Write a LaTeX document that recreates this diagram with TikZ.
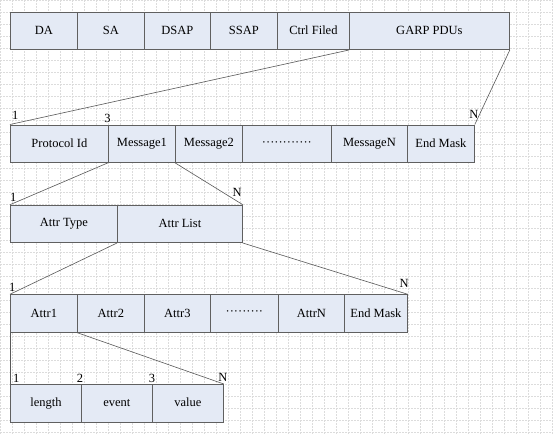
\documentclass[tikz,border=0pt]{standalone}
\usepackage{fontspec}
\setmainfont{Liberation Serif}
\definecolor{boxfill}{HTML}{E4EAF5}
\definecolor{boxline}{HTML}{606060}
\definecolor{linkline}{HTML}{585858}
\definecolor{gridcol}{HTML}{DCDCDC}
\begin{document}
\begin{tikzpicture}[x=1pt,y=-1pt,
        field/.style={draw=boxline, fill=boxfill, line width=0.8pt, anchor=north west,
            minimum height=37.5pt, inner sep=0pt, font=\fontsize{12.5}{15}\selectfont},
        num/.style={inner sep=0pt, font=\fontsize{12.5}{15}\selectfont},
        link/.style={draw=linkline, line width=0.6pt},
        gridline/.style={draw=gridcol, dash pattern=on 1.5pt off 1.5pt, line width=0.5pt}]
        \useasboundingbox[fill=white] (0,0) rectangle (553,434);
        % background grid
        \foreach \gx in {0,12,...,552} \draw[gridline] (\gx+0.7,0) -- (\gx+0.7,434);
        \foreach \gy in {0,12,...,432} \draw[gridline] (0,\gy+0.7) -- (553,\gy+0.7);
        % frame
        \node[field, minimum width=67pt] (da) at (10,11.7) {DA};
        \node[field, minimum width=67pt] (sa) at (77,11.7) {SA};
        \node[field, minimum width=66pt] (dsap) at (144,11.7) {DSAP};
        \node[field, minimum width=67pt] (ssap) at (210,11.7) {SSAP};
        \node[field, minimum width=72pt] (ctrl) at (277,11.7) {\raisebox{1.5pt}{Ctrl Filed}};
        \node[field, minimum width=160pt] (garp) at (349,11.7) {\raisebox{-1.5pt}{GARP PDUs}};
        % GARP PDU
        \node[field, minimum width=98pt] (pid) at (10,124.5) {Protocol Id};
        \node[field, minimum width=67pt] (msg1) at (108,124.5) {Message1};
        \node[field, minimum width=67pt] (msg2) at (175,124.5) {Message2};
        \node[field, minimum width=89pt] (msgdots) at (242,124.5) {············};
        \node[field, minimum width=76pt] (msgn) at (331,124.5) {MessageN};
        \node[field, minimum width=67pt] (pdumask) at (407,124.5) {End Mask};
        \draw[link] (garp.south west) -- (pid.north west);
        \draw[link] (garp.south east) -- (pdumask.north east);
        \node[num, anchor=base west] (pdunum1) at ([shift={(2,-5.5)}]pid.north west) {1};
        \node[num, anchor=base] (pdunum3) at ([shift={(-0.5,-2.5)}]msg1.north west) {3};
        \node[num, anchor=base] (pdunumn) at ([shift={(-1,-6.5)}]pdumask.north east) {N};
        % message
        \node[field, minimum width=107pt] (atype) at (10,204.7) {Attr Type};
        \node[field, minimum width=125pt] (alist) at (117,204.7) {Attr List};
        \draw[link] (msg1.south west) -- (atype.north west);
        \draw[link] (msg2.south west) -- (alist.north east);
        \node[num, anchor=base west] (msgnum1) at ([shift={(0,-3)}]atype.north west) {1};
        \node[num, anchor=base east] (msgnumn) at ([shift={(-1,-8)}]alist.north east) {N};
        % attribute list
        \node[field, minimum width=67pt] (attr1) at (10,294.3) {Attr1};
        \node[field, minimum width=67pt] (attr2) at (77,294.3) {Attr2};
        \node[field, minimum width=66pt] (attr3) at (144,294.3) {Attr3};
        \node[field, minimum width=68pt] (attrdots) at (210,294.3) {·········};
        \node[field, minimum width=66pt] (attrn) at (278,294.3) {AttrN};
        \node[field, minimum width=63pt] (listmask) at (344,294.3) {End Mask};
        \draw[link] (alist.south west) -- (attr1.north west);
        \draw[link] (alist.south east) -- (listmask.north east);
        \node[num, anchor=base west] (listnum1) at ([shift={(-1,-2.5)}]attr1.north west) {1};
        \node[num, anchor=base east] (listnumn) at ([shift={(1,-7)}]listmask.north east) {N};
        % attribute
        \node[field, minimum width=71pt] (len) at (10,384) {\raisebox{-1.5pt}{length}};
        \node[field, minimum width=71pt] (evt) at (81,384) {\raisebox{1pt}{event}};
        \node[field, minimum width=71pt] (val) at (152,384) {\raisebox{1pt}{value}};
        \draw[link] (attr1.south west) -- (len.north west);
        \draw[link] (attr2.south west) -- (val.north east);
        \node[num, anchor=base west] (attrnum1) at ([shift={(3,-2)}]len.north west) {1};
        \node[num, anchor=base] (attrnum2) at ([shift={(-1,-2)}]evt.north west) {2};
        \node[num, anchor=base] (attrnum3) at ([shift={(0,-2)}]val.north west) {3};
        \node[num, anchor=base] (attrnumn) at ([shift={(-1,-3)}]val.north east) {N};
    \end{tikzpicture}
\end{document}
